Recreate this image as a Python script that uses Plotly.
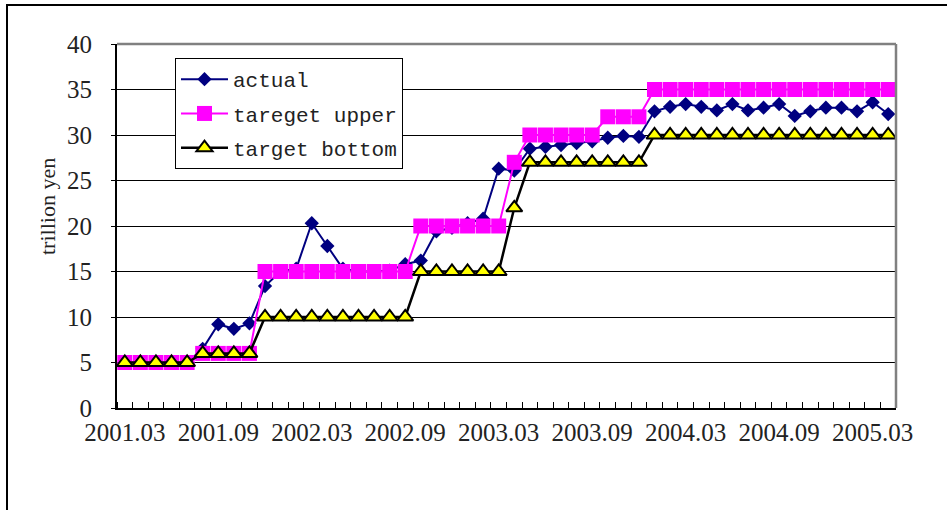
import plotly.graph_objects as go

months = [
    "2001.03", "2001.04", "2001.05", "2001.06", "2001.07", "2001.08", "2001.09", "2001.10", "2001.11", "2001.12",
    "2002.01", "2002.02", "2002.03", "2002.04", "2002.05", "2002.06", "2002.07", "2002.08", "2002.09", "2002.10",
    "2002.11", "2002.12", "2003.01", "2003.02", "2003.03", "2003.04", "2003.05", "2003.06", "2003.07", "2003.08",
    "2003.09", "2003.10", "2003.11", "2003.12", "2004.01", "2004.02", "2004.03", "2004.04", "2004.05", "2004.06",
    "2004.07", "2004.08", "2004.09", "2004.10", "2004.11", "2004.12", "2005.01", "2005.02", "2005.03", "2005.04",
]

actual = [
    5.0, 5.0, 5.0, 5.0, 5.0, 6.5, 9.2, 8.7, 9.3, 13.4,
    15.0, 15.3, 20.3, 17.8, 15.3, 15.0, 15.0, 15.1, 15.8, 16.2,
    19.4, 19.8, 20.3, 20.8, 26.3, 26.1, 28.5, 28.7, 28.9, 29.1,
    29.3, 29.7, 29.9, 29.8, 32.6, 33.1, 33.4, 33.1, 32.7, 33.4,
    32.7, 33.0, 33.4, 32.1, 32.6, 33.0, 33.0, 32.6, 33.6, 32.3,
]

target_upper = [
    5, 5, 5, 5, 5, 6, 6, 6, 6, 15,
    15, 15, 15, 15, 15, 15, 15, 15, 15, 20,
    20, 20, 20, 20, 20, 27, 30, 30, 30, 30,
    30, 32, 32, 32, 35, 35, 35, 35, 35, 35,
    35, 35, 35, 35, 35, 35, 35, 35, 35, 35,
]

target_bottom = [
    5, 5, 5, 5, 5, 6, 6, 6, 6, 10,
    10, 10, 10, 10, 10, 10, 10, 10, 10, 15,
    15, 15, 15, 15, 15, 22, 27, 27, 27, 27,
    27, 27, 27, 27, 30, 30, 30, 30, 30, 30,
    30, 30, 30, 30, 30, 30, 30, 30, 30, 30,
]

label_every = 6
y_ticks = [0, 5, 10, 15, 20, 25, 30, 35, 40]

idx = list(range(len(months)))
tick_idx = idx[::label_every]

serif = "Liberation Serif"
mono = "Liberation Mono"

W, H = 947, 510
PL, PR, PT, PB = 117, 896, 44, 408
PW, PH = PR - PL, PB - PT


def px_x(sx):
    return (sx - PL) / PW


def px_y(sy):
    return (PB - sy) / PH


fig = go.Figure()
fig.add_trace(go.Scatter(
    x=idx, y=actual, name="actual", mode="lines+markers", legendgroup="a",
    line=dict(color="#000080", width=2),
    marker=dict(symbol="diamond", size=11, color="#000080"),
))
fig.add_trace(go.Scatter(
    x=idx, y=target_upper, name="tareget upper", mode="lines+markers", legendgroup="b",
    line=dict(color="#FF00FF", width=2),
    marker=dict(symbol="square", size=15, color="#FF00FF"),
))
fig.add_trace(go.Scatter(
    x=idx, y=target_bottom, name="target bottom", mode="lines+markers", legendgroup="c",
    line=dict(color="#000000", width=2.5),
    marker=dict(symbol="triangle-up", size=14, color="#FFFF00", line=dict(color="#000000", width=2)),
))

fig.update_layout(
    width=W, height=H,
    margin=dict(l=PL, r=W - PR, t=PT, b=H - PB),
    paper_bgcolor="white", plot_bgcolor="white",
    font=dict(family=serif, color="black"),
    showlegend=True,
    legend=dict(
        x=px_x(175), y=px_y(58), xanchor="left", yanchor="top",
        bordercolor="black", borderwidth=1, bgcolor="white",
        font=dict(family=mono, size=21, color="#222222"),
        tracegroupgap=4, itemwidth=47,
    ),
    xaxis=dict(
        range=[-0.5, len(months) - 0.5],
        tickmode="array", tickvals=tick_idx, ticktext=[months[i] for i in tick_idx],
        ticks="", showgrid=False, zeroline=False,
        showline=True, linecolor="black", linewidth=2,
        tickfont=dict(family=serif, size=25, color="#222222"),
        ticklabelstandoff=1,
        minor=dict(tickmode="array", tickvals=[i - 0.5 for i in range(len(months) + 1)],
                   ticks="inside", ticklen=6, tickcolor="black", tickwidth=1, showgrid=False),
    ),
    yaxis=dict(
        range=[0, 40], tickmode="array", tickvals=y_ticks,
        showgrid=True, gridcolor="black", gridwidth=1, zeroline=False,
        showline=True, linecolor="black", linewidth=2,
        ticks="outside", ticklen=4, tickcolor="black",
        tickfont=dict(family=serif, size=25, color="#222222"),
        ticklabelstandoff=14,
    ),
    annotations=[dict(
        text="trillion yen", textangle=-90, showarrow=False,
        xref="paper", yref="paper", x=px_x(47), y=px_y(207),
        xanchor="center", yanchor="middle",
        font=dict(family=serif, size=22, color="#222222"),
    )],
    shapes=[
        dict(type="line", xref="paper", yref="paper", x0=0, x1=1, y0=1, y1=1,
             line=dict(color="#808080", width=2.5)),
        dict(type="line", xref="paper", yref="paper", x0=1, x1=1, y0=0, y1=1,
             line=dict(color="#808080", width=2.5)),
        dict(type="line", xref="paper", yref="paper", x0=px_x(6), x1=px_x(960),
             y0=px_y(5), y1=px_y(5), line=dict(color="black", width=2)),
        dict(type="line", xref="paper", yref="paper", x0=px_x(7), x1=px_x(7),
             y0=px_y(5), y1=px_y(520), line=dict(color="black", width=2)),
    ],
)

fig.write_html(
    "out.html",
    config={"displayModeBar": False},
    post_script="document.body.style.margin='0';document.body.style.overflow='hidden';",
)
